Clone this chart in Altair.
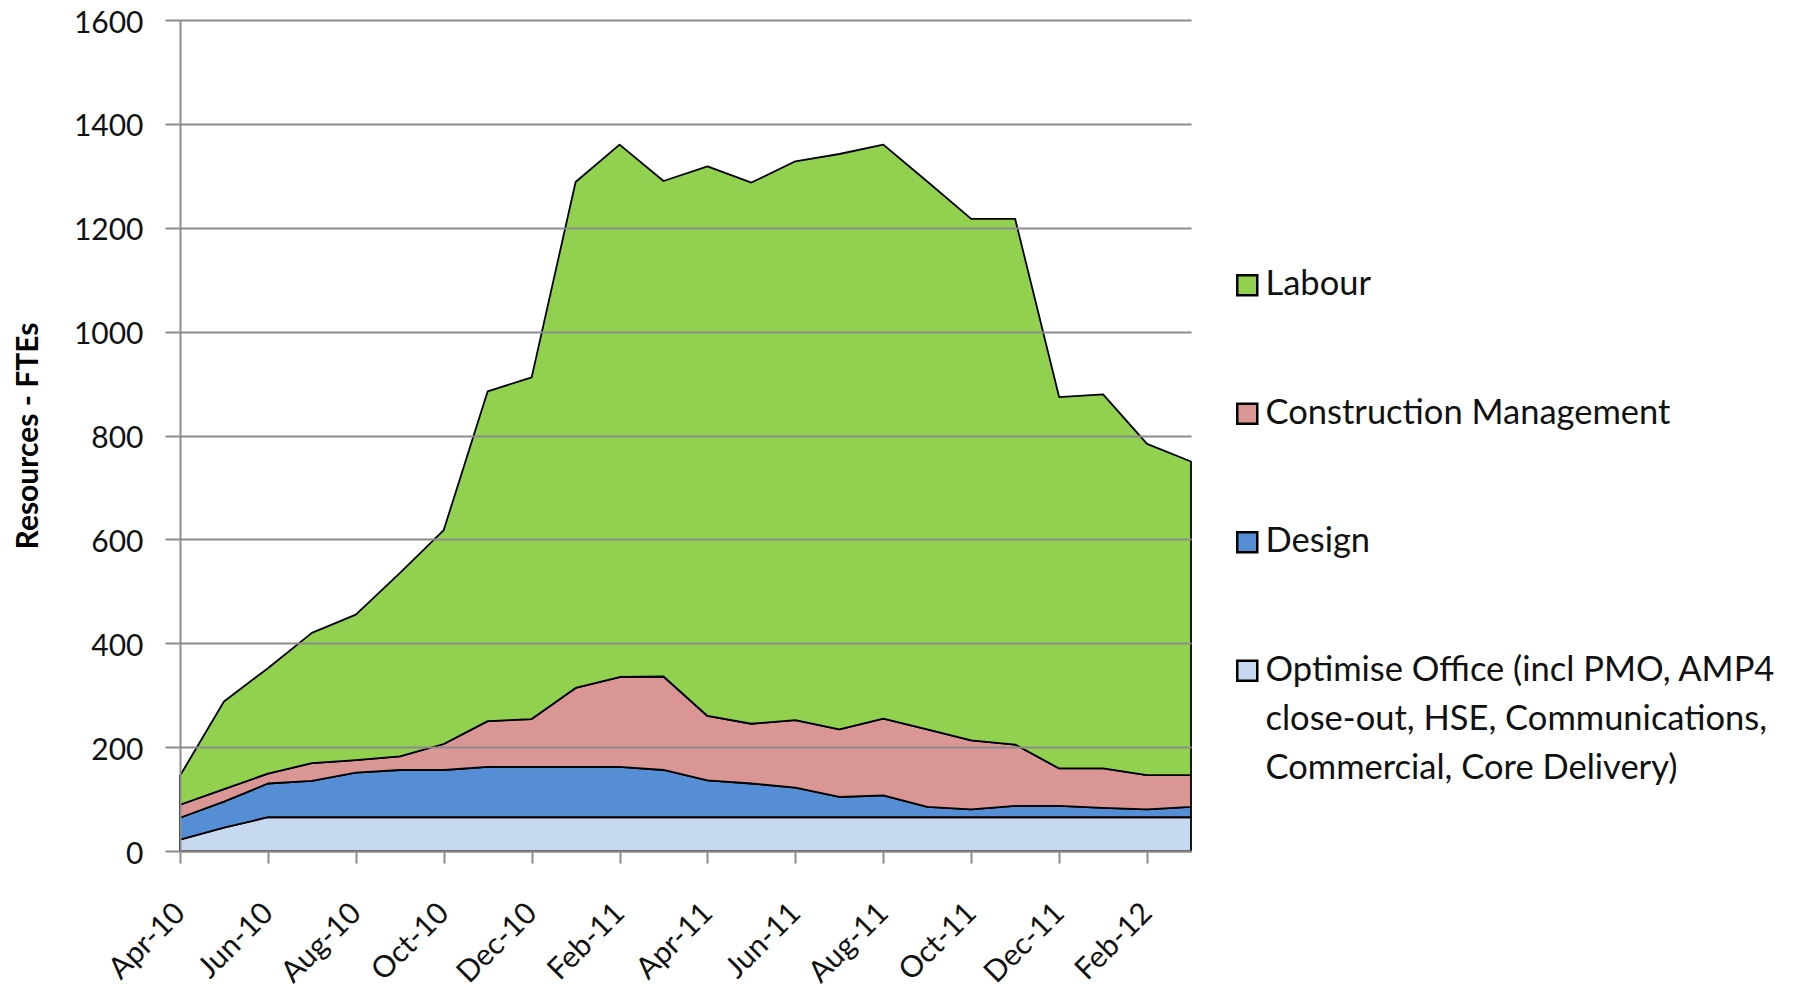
import altair as alt
import pandas as pd

months = ["Apr-10", "May-10", "Jun-10", "Jul-10", "Aug-10", "Sep-10", "Oct-10", "Nov-10",
          "Dec-10", "Jan-11", "Feb-11", "Mar-11", "Apr-11", "May-11", "Jun-11", "Jul-11",
          "Aug-11", "Sep-11", "Oct-11", "Nov-11", "Dec-11", "Jan-12", "Feb-12", "Mar-12"]
tick_months = ["Apr-10", "Jun-10", "Aug-10", "Oct-10", "Dec-10", "Feb-11",
               "Apr-11", "Jun-11", "Aug-11", "Oct-11", "Dec-11", "Feb-12"]

OPT = "Optimise Office (incl PMO, AMP4 close-out, HSE, Communications, Commercial, Core Delivery)"
series_names = ["Labour", "Construction Management", "Design", OPT]
series_colors = ["#92D050", "#D99694", "#558ED5", "#C6D9F1"]

optimise = [22, 45, 65, 65, 65, 65, 65, 65, 65, 65, 65, 65,
            65, 65, 65, 65, 65, 65, 65, 65, 65, 65, 65, 65]
design = [42, 50, 65, 70, 86, 91, 91, 97, 97, 97, 97, 91,
          71, 65, 57, 39, 42, 20, 15, 22, 22, 18, 15, 20]
construction = [25, 24, 19, 34, 24, 26, 50, 88, 92, 152, 173, 180,
                124, 115, 130, 130, 148, 149, 133, 118, 72, 76, 66, 61]
labour = [56, 169, 203, 251, 280, 353, 412, 635, 658, 974, 1025, 954,
          1058, 1042, 1076, 1108, 1105, 1055, 1004, 1012, 715, 720, 638, 604]

y_ticks = [0, 200, 400, 600, 800, 1000, 1200, 1400, 1600]

rows = []
for stack_pos, (name, vals) in enumerate([(OPT, optimise), ("Design", design),
                                          ("Construction Management", construction),
                                          ("Labour", labour)]):
    for m, v in zip(months, vals):
        rows.append({"month": m, "series": name, "value": v, "stack": stack_pos})
df = pd.DataFrame(rows)

label_expr = ("datum.label == '" + OPT + "' ? ['Optimise Office (incl PMO, AMP4', "
              "'close-out, HSE, Communications,', 'Commercial, Core Delivery)'] : datum.label")

chart = alt.Chart(df).mark_area(
    stroke="#000000", strokeWidth=1.8, opacity=1, strokeJoin="round"
).encode(
    x=alt.X("month:O", sort=months, scale=alt.Scale(padding=0),
            axis=alt.Axis(values=tick_months, title=None, labelAngle=315,
                          labelAlign="right", labelBaseline="middle",
                          labelPadding=45, tickSize=12, tickColor="#8c8c8c",
                          tickWidth=2, domainColor="#8c8c8c", domainWidth=2,
                          labelFont="Lato", labelFontSize=30, labelColor="#111111",
                          labelOverlap=False, grid=False, zindex=1)),
    y=alt.Y("value:Q", stack="zero",
            scale=alt.Scale(domain=[0, 1600], nice=False),
            axis=alt.Axis(values=y_ticks, format="d", title="Resources - FTEs",
                          titleFont="Lato", titleFontSize=30, titleFontWeight="bold",
                          titleColor="#000000", titleX=-143, titleY=415.5,
                          titleAngle=270, titleAlign="center", titleBaseline="alphabetic",
                          labelFont="Lato", labelFontSize=30, labelColor="#111111",
                          labelPadding=22, labelOffset=3, tickSize=15,
                          tickColor="#8c8c8c", tickWidth=2,
                          domainColor="#8c8c8c", domainWidth=2,
                          grid=True, gridColor="#8c8c8c", gridWidth=2, zindex=1)),
    color=alt.Color("series:N",
                    scale=alt.Scale(domain=series_names, range=series_colors),
                    legend=alt.Legend(title=None, orient="none", legendX=1050, legendY=248,
                                      direction="vertical", symbolType="square",
                                      symbolSize=400, symbolStrokeColor="#000000",
                                      symbolStrokeWidth=2.5, symbolOpacity=1,
                                      labelFont="Lato", labelFontSize=34.5,
                                      labelColor="#111111", labelLimit=800,
                                      labelOffset=1, rowPadding=93.5, padding=0,
                                      labelBaseline="middle", labelExpr=label_expr)),
    order=alt.Order("stack:Q"),
).properties(
    width=1011, height=831,
    autosize=alt.AutoSizeParams(type="none"),
    padding={"left": 172, "top": 12, "right": 590, "bottom": 138},
).configure(
    style={"guide-label": {"lineHeight": 49}}
).configure_view(stroke=None)

chart.save("out.html", embed_options={"renderer": "svg", "actions": False})
